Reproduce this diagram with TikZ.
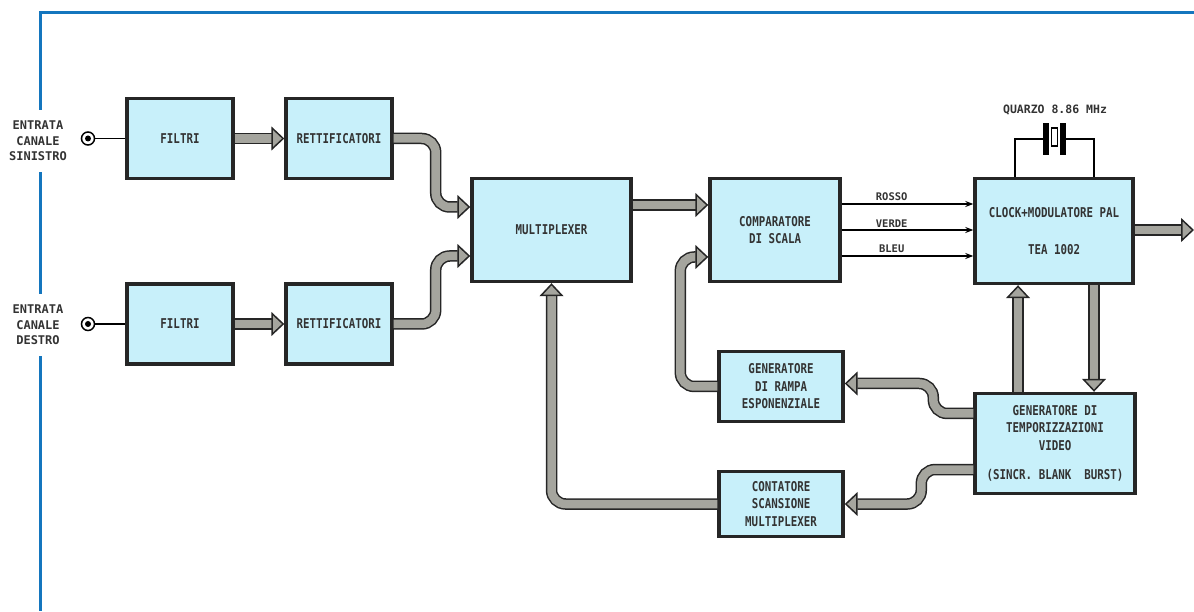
\documentclass[tikz,border=0pt]{standalone}
\usepackage{fontspec}
\newfontfamily\boxfont[FakeStretch=0.8]{DejaVu Sans Mono}
\newfontfamily\labelfont{DejaVu Sans Mono}
\usetikzlibrary{arrows.meta, positioning}
\definecolor{boxcyan}{RGB}{200,240,250}
\definecolor{pipegray}{RGB}{165,165,158}
\definecolor{frameblue}{RGB}{20,118,190}

\begin{document}
\begin{tikzpicture}[x=1pt, y=1pt, node distance=159pt]

\tikzstyle{blockbox} = [rectangle, draw=black!85, line width=3.4pt, fill=boxcyan, align=center, text centered, minimum width=106pt, minimum height=80pt, font=\boxfont\bfseries\fontsize{13.5}{17.5}\selectfont, text=black!80]
\tikzstyle{jack} = [circle, draw=black, line width=1.5pt, fill=white, minimum size=13pt, inner sep=0pt, path picture={\fill[black] (path picture bounding box.center) circle (3pt);}]
\tikzstyle{inlabel} = [align=center, font=\labelfont\bfseries\fontsize{12}{15.5}\selectfont, text=black!80, inner xsep=2pt, inner ysep=11pt]
\tikzstyle{fatarrow} = [draw=black!85, line width=1.5pt, double=pipegray, double distance=8.5pt, rounded corners=14pt, -{Triangle[width=24pt, length=13pt, fill=pipegray]}]
\tikzstyle{signal} = [line width=1.8pt, -{Stealth[length=8pt, width=6pt]}]
\tikzstyle{wire} = [line width=1.8pt]
\tikzstyle{small} = [font=\labelfont\bfseries\fontsize{10.5}{12}\selectfont, text=black!80, inner sep=2pt]

\useasboundingbox (0,0) rectangle (1194,611);

% input labels and frame
\node (ins) [inlabel] at (38,470) {ENTRATA\\CANALE\\SINISTRO};
\node (ind) [inlabel] at (38,286) {ENTRATA\\CANALE\\DESTRO};
\coordinate (tl) at (40,598);
\coordinate (tr) at (1194,598);
\coordinate (bl) at (40,0);
\draw[frameblue, line width=3pt] (tr) -- (tl) -- (ins.north -| tl);
\draw[frameblue, line width=3pt] (ins.south -| tl) -- (ind.north -| tl);
\draw[frameblue, line width=3pt] (ind.south -| tl) -- (bl);

% blocks
\node (fa) [blockbox] at (180,472.5) {FILTRI};
\node (ra) [blockbox, right of=fa] {RETTIFICATORI};
\node (fb) [blockbox, below of=fa, yshift=-26.5pt] {FILTRI};
\node (rb) [blockbox, right of=fb] {RETTIFICATORI};
\node (mux) [blockbox, minimum width=159pt, minimum height=103pt] at (551.5,381) {MULTIPLEXER};
\node (comp) [blockbox, minimum width=130pt, minimum height=103pt] at (775,381) {COMPARATORE\\DI SCALA};
\node (clk) [blockbox, minimum width=158pt, minimum height=105pt] at (1054,380) {CLOCK+MODULATORE PAL\\[19pt]TEA 1002};
\node (ramp) [blockbox, minimum width=124pt, minimum height=70pt] at (781,224.5) {GENERATORE\\DI RAMPA\\ESPONENZIALE};
\node (tim) [blockbox, minimum width=160pt, minimum height=100pt] at (1055,167.5) {GENERATORE DI\\TEMPORIZZAZIONI\\VIDEO\\[12pt](SINCR. BLANK~~BURST)};
\node (cnt) [blockbox, minimum width=124pt, minimum height=65pt] at (781,107) {CONTATORE\\SCANSIONE\\MULTIPLEXER};

% input jacks
\node (jka) [jack] at (88,472.5) {};
\node (jkb) [jack] at (88,287) {};
\draw[wire] (jka) -- (fa);
\draw[wire] (jkb) -- (fb);

% quartz
\node (qlab) [small, font=\labelfont\bfseries\fontsize{11.5}{13}\selectfont] at (1055,501) {QUARZO 8.86 MHz};
\coordinate (xl) at (1045,472);
\coordinate (xr) at (1065,472);
\draw[wire] ([xshift=-39pt]clk.north) |- (xl);
\draw[wire] ([xshift=40pt]clk.north) |- (xr);
\fill (1043,456) rectangle (1049,488);
\fill (1060,456) rectangle (1066,488);
\draw[line width=1.4pt] (1051.5,465) rectangle (1057.5,483);

% fat connectors
\draw [fatarrow] (fa) -- (ra);
\draw [fatarrow] (fb) -- (rb);
\draw [fatarrow] (ra.east) -- ++(42,0) |- ([yshift=23pt]mux.west);
\draw [fatarrow] (rb.east) -- ++(42,0) |- ([yshift=-26pt]mux.west);
\draw [fatarrow] ([yshift=25pt]mux.east) -- ([yshift=25pt]comp.west);
\draw [fatarrow] (ramp.west) -- ++(-37,0) |- ([yshift=-27pt]comp.west);
\draw [fatarrow] (cnt.west) -| (mux.south);
\draw [fatarrow] ([yshift=30pt]tim.west) -- ++(-40,0) |- ([yshift=3pt]ramp.east);
\draw [fatarrow] ([yshift=-26pt]tim.west) -- ++(-52,0) |- (cnt.east);
\draw [fatarrow] ([xshift=-37pt]tim.north) -- ([xshift=-37pt]tim.north |- clk.south);
\draw [fatarrow] ([xshift=40pt]clk.south) -- ([xshift=40pt]clk.south |- tim.north);
\coordinate (out) at (1194,381);
\draw [fatarrow] (clk.east |- out) -- (out);

% colour signals
\draw [signal] ([yshift=26pt]comp.east) -- node[small, above, pos=0.38] {ROSSO} ([yshift=27pt]clk.west);
\draw [signal] (comp.east) -- node[small, above, pos=0.38] {VERDE} ([yshift=1pt]clk.west);
\draw [signal] ([yshift=-26pt]comp.east) -- node[small, above, pos=0.38] {BLEU} ([yshift=-25pt]clk.west);

\end{tikzpicture}
\end{document}
